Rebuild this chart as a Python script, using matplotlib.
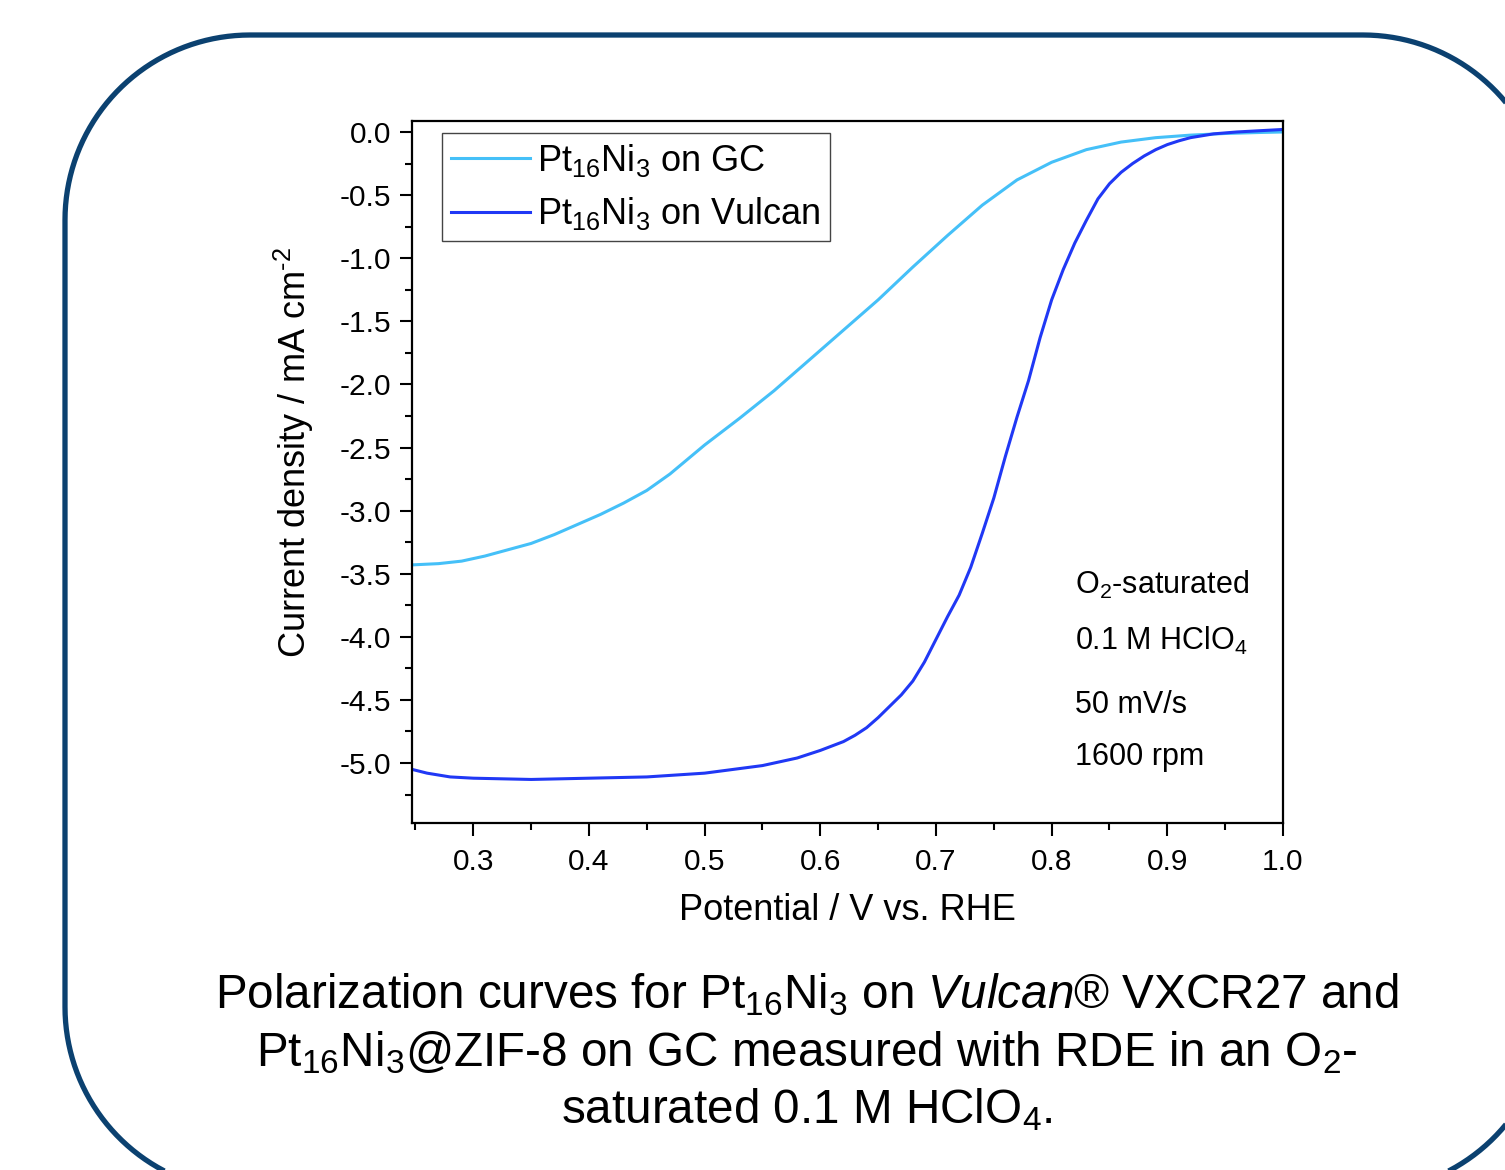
import numpy as np
import matplotlib
matplotlib.use("Agg")
import matplotlib.pyplot as plt
from matplotlib.transforms import Affine2D
from matplotlib.ticker import MultipleLocator, FormatStrFormatter
from matplotlib.lines import Line2D

plt.rcParams['font.family'] = ['Liberation Sans', 'DejaVu Sans']
plt.rcParams['mathtext.fontset'] = 'custom'
plt.rcParams['mathtext.rm'] = 'Liberation Sans'
plt.rcParams['mathtext.it'] = 'Liberation Sans:italic'
plt.rcParams['axes.unicode_minus'] = False

# Pt16Ni3 on GC (V vs RHE, mA cm-2)
gc_v = [0.247, 0.27, 0.29, 0.31, 0.33, 0.35, 0.37, 0.39, 0.41, 0.43, 0.45, 0.47,
        0.50, 0.53, 0.56, 0.59, 0.62, 0.65, 0.68, 0.71, 0.74, 0.77, 0.80, 0.83,
        0.86, 0.89, 0.92, 0.95, 0.98, 1.0]
gc_j = [-3.43, -3.42, -3.40, -3.36, -3.31, -3.26, -3.19, -3.11, -3.03, -2.94, -2.84, -2.71,
        -2.48, -2.27, -2.05, -1.81, -1.57, -1.33, -1.07, -0.82, -0.58, -0.38, -0.24, -0.14,
        -0.08, -0.045, -0.025, -0.012, -0.004, 0.0]

# Pt16Ni3 on Vulcan
vu_v = [0.247, 0.26, 0.28, 0.30, 0.35, 0.40, 0.45, 0.50, 0.55, 0.58, 0.60, 0.62,
        0.63, 0.64, 0.65, 0.66, 0.67, 0.68, 0.69, 0.70, 0.71, 0.72, 0.73, 0.74,
        0.75, 0.76, 0.77, 0.78, 0.79, 0.80, 0.81, 0.82, 0.83, 0.84, 0.85, 0.86,
        0.87, 0.88, 0.89, 0.90, 0.91, 0.92, 0.94, 0.96, 0.98, 1.0]
vu_j = [-5.05, -5.08, -5.11, -5.12, -5.13, -5.12, -5.11, -5.08, -5.02, -4.96, -4.90, -4.83,
        -4.78, -4.72, -4.64, -4.55, -4.46, -4.35, -4.20, -4.02, -3.84, -3.67, -3.45, -3.18,
        -2.90, -2.57, -2.26, -1.97, -1.63, -1.33, -1.09, -0.88, -0.70, -0.53, -0.41, -0.32,
        -0.25, -0.19, -0.14, -0.10, -0.07, -0.045, -0.015, 0.0, 0.01, 0.02]

conditions = [r"O$_2$-saturated", r"0.1 M HClO$_4$", "50 mV/s", "1600 rpm"]
cond_y = [-3.59, -4.03, -4.54, -4.95]

caption = [r"Polarization curves for Pt$_{16}$Ni$_3$ on $\mathit{Vulcan}$® VXCR27 and",
           r"Pt$_{16}$Ni$_3$@ZIF-8 on GC measured with RDE in an O$_2$-",
           r"saturated 0.1 M HClO$_4$."]

W, H = 1505, 1170
fig = plt.figure(figsize=(W / 100, H / 100), dpi=100)

# rounded frame, built in pixel coords (y down), runs off the right/bottom edge
px = Affine2D().scale(1 / W, -1 / H).translate(0, 1) + fig.transFigure
x0, x1, y0, y1, r = 65, 1548, 35, 1192, 185
a = np.linspace(0, np.pi / 2, 40)
fx = np.concatenate([[800], x1 - r + r * np.sin(a), x1 - r + r * np.cos(a),
                     x0 + r - r * np.sin(a), x0 + r - r * np.cos(a), [800]])
fy = np.concatenate([[y0], y0 + r - r * np.cos(a), y1 - r + r * np.sin(a),
                     y1 - r + r * np.cos(a), y0 + r - r * np.sin(a), [y0]])
fig.lines.append(Line2D(fx, fy, transform=px, color='#0b4170', lw=3.8,
                        solid_joinstyle='round', solid_capstyle='butt'))

ax = fig.add_axes([412 / W, 1 - 823 / H, 871 / W, 702 / H])
ax.plot(gc_v, gc_j, color='#45c0f8', lw=2.2, label=r"Pt$_{16}$Ni$_3$ on GC")
ax.plot(vu_v, vu_j, color='#2038f5', lw=2.2, label=r"Pt$_{16}$Ni$_3$ on Vulcan")

ax.set_xlim(0.247, 1.0)
ax.set_ylim(-5.475, 0.087)
ax.xaxis.set_major_locator(MultipleLocator(0.1))
ax.xaxis.set_minor_locator(MultipleLocator(0.05))
ax.yaxis.set_major_locator(MultipleLocator(0.5))
ax.yaxis.set_minor_locator(MultipleLocator(0.25))
ax.xaxis.set_major_formatter(FormatStrFormatter('%.1f'))
ax.yaxis.set_major_formatter(FormatStrFormatter('%.1f'))
ax.tick_params(which='major', length=9, width=1.5, labelsize=21.5, pad=6)
ax.tick_params(axis='x', which='major', pad=9)
ax.tick_params(which='minor', length=5, width=1.5)
for s in ax.spines.values():
    s.set_linewidth(1.6)

ax.set_xlabel("Potential / V vs. RHE", fontsize=26, labelpad=12)
ax.set_ylabel(r"Current density / mA cm$^{\text{-2}}$", fontsize=26)
ax.yaxis.set_label_coords(-0.110, 0.528)

leg = ax.legend(loc='upper left', bbox_to_anchor=(0.034, 0.983), borderaxespad=0,
                fontsize=26, fancybox=False, framealpha=1, edgecolor='#444444',
                handlelength=2.2, handletextpad=0.2, labelspacing=0.45,
                borderpad=0.25)
leg.get_frame().set_linewidth(1.0)

for t, y in zip(conditions, cond_y):
    ax.text(0.82, y, t, fontsize=22, va='center', ha='left')

cap_y = [995, 1053, 1110]
for t, y in zip(caption, cap_y):
    fig.text(807 / W, 1 - y / H, t, fontsize=34.3, ha='center', va='center')

fig.savefig("out.png", dpi=100)
